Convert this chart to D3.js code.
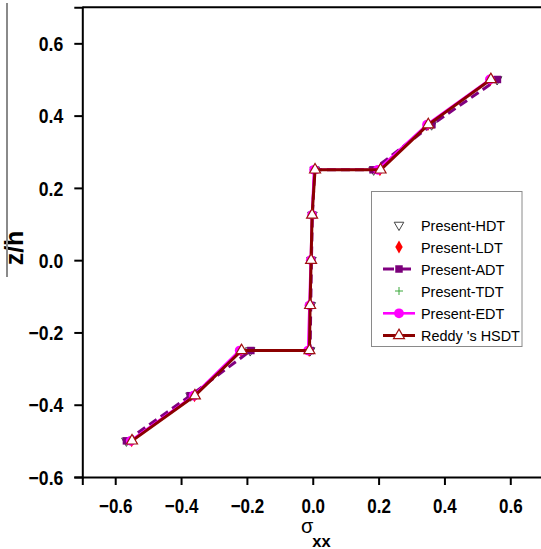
<!DOCTYPE html>
<html>
<head>
<meta charset="utf-8">
<script src="https://cdn.jsdelivr.net/npm/d3@7"></script>
<style>
  html, body { margin: 0; padding: 0; background: #fff; }
  svg { display: block; }
</style>
</head>
<body>
<svg id="chart" width="541" height="549"></svg>
<script>
// Through-thickness position z/h of each sampled point
const zh = [-0.5, -0.375, -0.25, -0.25, -0.125, 0, 0.125, 0.25, 0.25, 0.375, 0.5];

// Normal stress sigma_xx at each z/h, one array per theory
const hdt   = [-0.566, -0.371, -0.190, -0.008, -0.006, -0.004, -0.001, 0.006, 0.185, 0.361, 0.560];
const ldt   = [-0.550, -0.359, -0.218, -0.011, -0.008, -0.005, -0.002, 0.006, 0.204, 0.350, 0.540];
const adt   = [-0.566, -0.372, -0.188, -0.008, -0.006, -0.004, -0.001, 0.006, 0.183, 0.362, 0.561];
const tdt   = [-0.551, -0.360, -0.219, -0.012, -0.008, -0.005, -0.002, 0.005, 0.202, 0.349, 0.539];
const edt   = [-0.553, -0.362, -0.222, -0.014, -0.010, -0.006, -0.002, 0.004, 0.198, 0.347, 0.538];
const reddy = [-0.549, -0.358, -0.216, -0.010, -0.008, -0.005, -0.002, 0.007, 0.206, 0.351, 0.541];

// Axis ticks
const xMajor = [-0.6, -0.4, -0.2, 0.0, 0.2, 0.4, 0.6];
const xMinor = [-0.7, -0.5, -0.3, -0.1, 0.1, 0.3, 0.5];
const yMajor = [-0.6, -0.4, -0.2, 0.0, 0.2, 0.4, 0.6];
const yMinor = [-0.5, -0.3, -0.1, 0.1, 0.3, 0.5];

const legendLabels = ["Present-HDT", "Present-LDT", "Present-ADT", "Present-TDT", "Present-EDT", "Reddy 's HSDT"];

const svg = d3.select("#chart");
const FONT = "'Liberation Sans', Arial, Helvetica, sans-serif";

const x = d3.scaleLinear().domain([-0.7, 0.7]).range([82.3, 543.2]);
const y = d3.scaleLinear().domain([-0.6, 0.7]).range([477, 7.2]);

// squeeze a text element horizontally
function condense(sel, f) {
  sel.each(function () {
    const len = this.getComputedTextLength();
    d3.select(this).attr("textLength", len * f).attr("lengthAdjust", "spacingAndGlyphs");
  });
}

// ----- axes -----
const gx = svg.append("g").attr("transform", `translate(0,${y(-0.6)})`);
gx.call(d3.axisBottom(x).tickValues(xMinor).tickSize(5).tickFormat(""));
gx.call(d3.axisBottom(x).tickValues(xMajor).tickSize(8).tickPadding(13.5)
  .tickFormat(d => d3.format(".1f")(d)));

const gy = svg.append("g").attr("transform", `translate(${x(-0.7)},0)`);
gy.call(d3.axisLeft(y).tickValues(yMinor).tickSize(5).tickFormat(""));
gy.call(d3.axisLeft(y).tickValues(yMajor).tickSize(8).tickPadding(11)
  .tickFormat(d => d3.format(".1f")(d)));

[gx, gy].forEach(g => {
  g.selectAll(".domain").attr("stroke", "#000").attr("stroke-width", 2);
  g.selectAll(".tick line").attr("stroke", "#000").attr("stroke-width", 2);
  g.selectAll(".tick text")
    .attr("fill", "#000")
    .style("font-family", FONT)
    .style("font-weight", "bold")
    .style("font-size", "20px");
});
gy.selectAll(".tick text").attr("dy", "0.36em");
condense(gx.selectAll(".tick text"), 0.85);
condense(gy.selectAll(".tick text"), 0.88);

// top frame line
svg.append("line")
  .attr("x1", x(-0.7)).attr("x2", 541)
  .attr("y1", y(0.7)).attr("y2", y(0.7))
  .attr("stroke", "#000").attr("stroke-width", 2);

// ----- axis titles -----
const xt = svg.append("text")
  .attr("x", 301).attr("y", 532.5)
  .style("font-family", FONT).style("font-size", "20px")
  .attr("fill", "#000");
xt.append("tspan").text("σ");
xt.append("tspan").attr("dy", 14.5).attr("dx", -1)
  .style("font-size", "16.5px").style("font-weight", "bold").text("xx");

svg.append("text")
  .attr("transform", "translate(23,248) rotate(-90)")
  .attr("text-anchor", "middle")
  .style("font-family", FONT).style("font-weight", "bold").style("font-size", "25px")
  .attr("fill", "#000")
  .text("z/h");
svg.append("line")
  .attr("x1", 7).attr("x2", 7).attr("y1", 3).attr("y2", 277)
  .attr("stroke", "#8a8a8a").attr("stroke-width", 2);

// ----- series -----
const series = [
  { name: legendLabels[0], vals: hdt,   line: null, marker: "tridown" },
  { name: legendLabels[1], vals: ldt,   line: null, marker: "diamond" },
  { name: legendLabels[2], vals: adt,   line: { color: "#800080", width: 3, dash: "9,5" }, marker: "square" },
  { name: legendLabels[3], vals: tdt,   line: null, marker: "plus" },
  { name: legendLabels[4], vals: edt,   line: { color: "#ff00ff", width: 2.6 }, marker: "circle" },
  { name: legendLabels[5], vals: reddy, line: { color: "#8b0000", width: 3 }, marker: "triangle" }
];

function drawMarker(g, type, cx, cy) {
  const t = `translate(${cx},${cy})`;
  switch (type) {
    case "tridown":
      g.append("path").attr("d", d3.symbol(d3.symbolTriangle, 40)())
        .attr("transform", t + " rotate(180)")
        .attr("fill", "none").attr("stroke", "#444").attr("stroke-width", 1);
      break;
    case "diamond":
      g.append("path").attr("d", d3.symbol(d3.symbolDiamond, 48)())
        .attr("transform", t).attr("fill", "#ff0000");
      break;
    case "square":
      g.append("path").attr("d", d3.symbol(d3.symbolSquare, 56)())
        .attr("transform", t).attr("fill", "#7a007a");
      break;
    case "plus":
      g.append("path").attr("d", "M-4,0H4M0,-4V4")
        .attr("transform", t).attr("fill", "none").attr("stroke", "#3aa83a").attr("stroke-width", 1);
      break;
    case "circle":
      g.append("path").attr("d", d3.symbol(d3.symbolCircle, 75)())
        .attr("transform", t).attr("fill", "#ff00ff");
      break;
    case "triangle":
      g.append("path").attr("d", d3.symbol(d3.symbolTriangle, 52)())
        .attr("transform", t)
        .attr("fill", "#fff").attr("stroke", "#a01010").attr("stroke-width", 1.2);
      break;
  }
}

const plot = svg.append("g");
const lineGen = d3.line().x(d => x(d[0])).y(d => y(d[1]));

series.forEach(s => {
  const pts = s.vals.map((v, i) => [v, zh[i]]);
  const g = plot.append("g");
  if (s.line) {
    g.append("path").datum(pts).attr("d", lineGen)
      .attr("fill", "none")
      .attr("stroke", s.line.color)
      .attr("stroke-width", s.line.width)
      .attr("stroke-dasharray", s.line.dash || null)
      .attr("stroke-linejoin", "round");
  }
  pts.forEach(p => drawMarker(g, s.marker, x(p[0]), y(p[1])));
});

// ----- legend -----
const lg = svg.append("g");
lg.append("rect")
  .attr("x", 371.5).attr("y", 191.5).attr("width", 150.5).attr("height", 155)
  .attr("fill", "#fff").attr("stroke", "#8a8a8a").attr("stroke-width", 1);

const rowY = [225, 247, 269, 291, 313.3, 335.5];
series.forEach((s, i) => {
  const cy = rowY[i];
  const g = lg.append("g");
  if (s.line) {
    g.append("line")
      .attr("x1", 383).attr("x2", 415).attr("y1", cy).attr("y2", cy)
      .attr("stroke", s.line.color).attr("stroke-width", s.line.width)
      .attr("stroke-dasharray", s.line.dash ? "11,6" : null);
  }
  drawMarker(g, s.marker, 399, cy);
  const t = g.append("text")
    .attr("x", 421).attr("y", cy + 5.5)
    .style("font-family", FONT).style("font-size", "15.5px")
    .attr("fill", "#000")
    .text(s.name);
  condense(t, 0.93);
});
</script>
</body>
</html>
